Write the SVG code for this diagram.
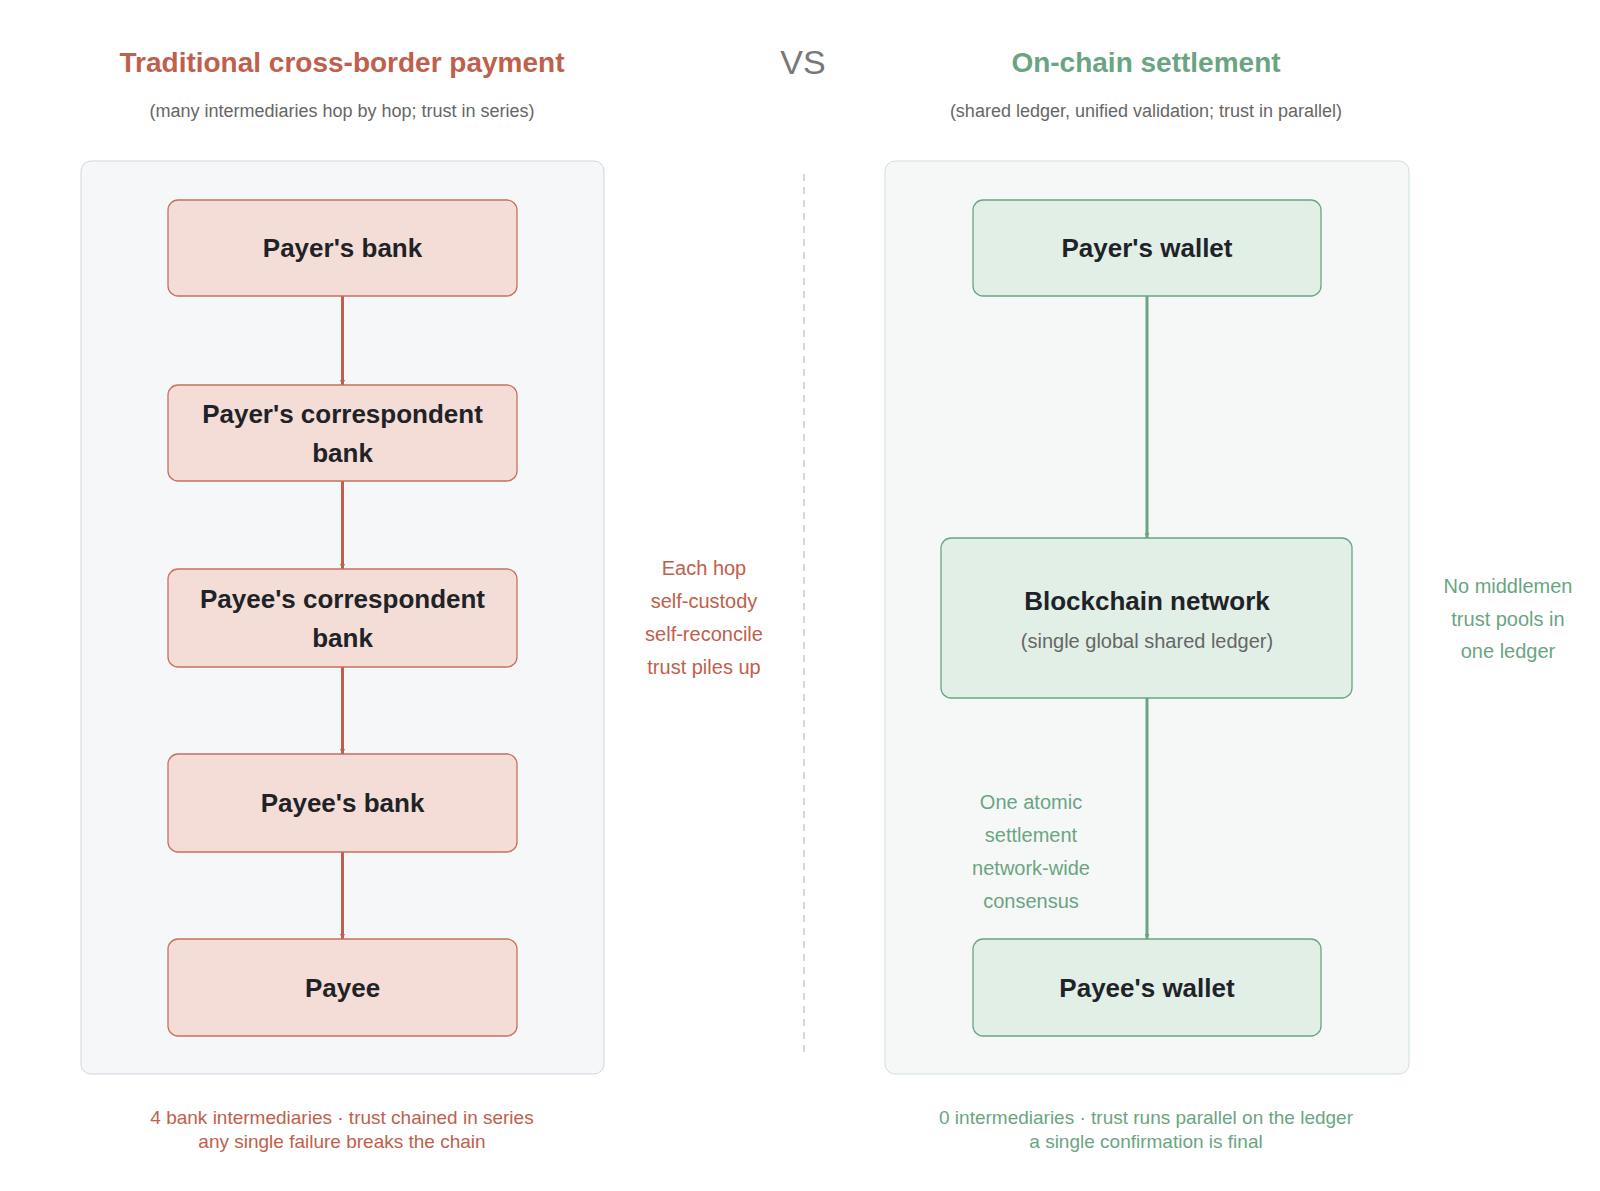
<svg xmlns="http://www.w3.org/2000/svg" width="1600" height="1191" viewBox="0 0 1600 1191">
<defs>
<marker id="ar" viewBox="0 0 10 10" refX="10" refY="5" markerWidth="5" markerHeight="5" markerUnits="userSpaceOnUse" orient="auto"><path d="M0,0L10,5L0,10z" fill="#c0604c"/></marker>
<marker id="ag" viewBox="0 0 10 10" refX="10" refY="5" markerWidth="5" markerHeight="5" markerUnits="userSpaceOnUse" orient="auto"><path d="M0,0L10,5L0,10z" fill="#6aa583"/></marker>
<style>
text{font-family:"Liberation Sans",Arial,sans-serif;text-anchor:middle}
.t{font-size:28px;font-weight:bold}
.s{font-size:18px;fill:#666}
.rn rect{fill:#f3ddd6;stroke:#c8705c;stroke-width:1.3}
.gn rect{fill:#e1efe7;stroke:#6aa583;stroke-width:1.3}
.n{font-size:26px;font-weight:bold;fill:#1f2328}
.r{fill:#c0604c}.g{fill:#6aa583}
.a{font-size:20px}.b{font-size:19px}
</style>
</defs>
<rect width="1600" height="1191" fill="#fff"/>
<text x="342" y="72" class="t r">Traditional cross-border payment</text>
<text x="803" y="74" class="t" fill="#777" font-weight="normal" style="font-size:34px;font-weight:normal">VS</text>
<text x="1146" y="72" class="t g">On-chain settlement</text>
<text x="342" y="117" class="s">(many intermediaries hop by hop; trust in series)</text>
<text x="1146" y="117" class="s">(shared ledger, unified validation; trust in parallel)</text>
<rect x="81" y="161" width="523" height="913" rx="10" fill="#f6f7f9" stroke="#cfd6e0"/>
<rect x="885" y="161" width="524" height="913" rx="10" fill="#f6f8f7" stroke="#cfe2d6"/>
<line x1="804" y1="174" x2="804" y2="1057" stroke="#ccc" stroke-width="1.5" stroke-dasharray="7,6"/>
<g id="connectors" stroke-width="3">
<line x1="342.5" y1="296" x2="342.5" y2="385" stroke="#c0604c" marker-end="url(#ar)"/>
<line x1="342.5" y1="481" x2="342.5" y2="569" stroke="#c0604c" marker-end="url(#ar)"/>
<line x1="342.5" y1="667" x2="342.5" y2="754" stroke="#c0604c" marker-end="url(#ar)"/>
<line x1="342.5" y1="852" x2="342.5" y2="939" stroke="#c0604c" marker-end="url(#ar)"/>
<line x1="1147" y1="296" x2="1147" y2="538" stroke="#6aa583" marker-end="url(#ag)"/>
<line x1="1147" y1="698" x2="1147" y2="939" stroke="#6aa583" marker-end="url(#ag)"/>
</g>
<g id="n1" class="rn"><rect x="168" y="200" width="349" height="96" rx="10"/><text x="342.5" y="257" class="n">Payer's bank</text></g>
<g id="n2" class="rn"><rect x="168" y="385" width="349" height="96" rx="10"/><text x="342.5" y="423" class="n">Payer's correspondent</text><text x="342.5" y="462" class="n">bank</text></g>
<g id="n3" class="rn"><rect x="168" y="569" width="349" height="98" rx="10"/><text x="342.5" y="608" class="n">Payee's correspondent</text><text x="342.5" y="647" class="n">bank</text></g>
<g id="n4" class="rn"><rect x="168" y="754" width="349" height="98" rx="10"/><text x="342.5" y="812" class="n">Payee's bank</text></g>
<g id="n5" class="rn"><rect x="168" y="939" width="349" height="97" rx="10"/><text x="342.5" y="997" class="n">Payee</text></g>
<g id="g1" class="gn"><rect x="973" y="200" width="348" height="96" rx="10"/><text x="1147" y="257" class="n">Payer's wallet</text></g>
<g id="g2" class="gn"><rect x="941" y="538" width="411" height="160" rx="10"/><text x="1147" y="610" class="n">Blockchain network</text><text x="1147" y="648" class="s" style="font-size:20px">(single global shared ledger)</text></g>
<g id="g3" class="gn"><rect x="973" y="939" width="348" height="97" rx="10"/><text x="1147" y="997" class="n">Payee's wallet</text></g>
<g class="a r"><text x="704" y="575">Each hop</text><text x="704" y="608">self-custody</text><text x="704" y="641">self-reconcile</text><text x="704" y="674">trust piles up</text></g>
<g class="a g"><text x="1508" y="593">No middlemen</text><text x="1508" y="626">trust pools in</text><text x="1508" y="658">one ledger</text></g>
<g class="a g"><text x="1031" y="809">One atomic</text><text x="1031" y="842">settlement</text><text x="1031" y="875">network-wide</text><text x="1031" y="908">consensus</text></g>
<g class="b r"><text x="342" y="1124">4 bank intermediaries · trust chained in series</text><text x="342" y="1148">any single failure breaks the chain</text></g>
<g class="b g"><text x="1146" y="1124">0 intermediaries · trust runs parallel on the ledger</text><text x="1146" y="1148">a single confirmation is final</text></g>
</svg>
